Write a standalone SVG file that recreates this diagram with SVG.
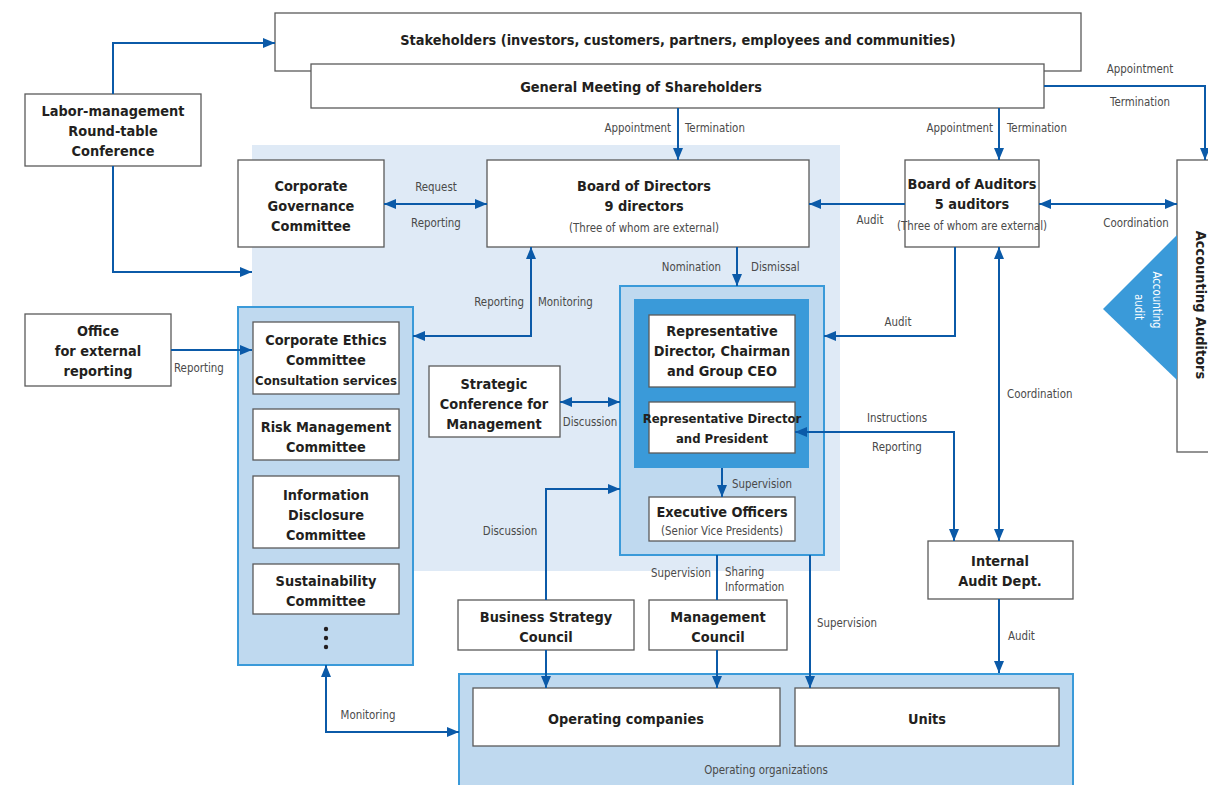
<svg xmlns="http://www.w3.org/2000/svg" width="1208" height="785" viewBox="0 0 1208 785">
<defs>
<marker id="ah" viewBox="0 0 12 10" refX="12" refY="5" markerWidth="12" markerHeight="10" markerUnits="userSpaceOnUse" orient="auto-start-reverse"><path d="M0,0 L12,5 L0,10 z" fill="#0b5aa8"/></marker>
<style>
.box{fill:#fff;stroke:#5a5a5a;stroke-width:1.3}
.panel{fill:#bfd9ef;stroke:#3a9ad9;stroke-width:2}
.t{font-family:"Liberation Sans Narrow","DejaVu Sans Condensed","Liberation Sans",sans-serif;font-weight:bold;font-size:14.4px;fill:#231f20;text-anchor:middle}
.s{font-family:"Liberation Sans Narrow","DejaVu Sans Condensed","Liberation Sans",sans-serif;font-size:11.4px;fill:#4a4a4a}
.m{text-anchor:middle}
.e{text-anchor:end}
.ln{fill:none;stroke:#0b5aa8;stroke-width:2}
</style>
</defs>
<rect width="1208" height="785" fill="#fff"/>
<rect id="bg-governance" x="252" y="145" width="588" height="426" fill="#dfeaf6"/>

<g id="stakeholders"><rect class="box" x="275" y="13" width="806" height="58"/><text class="t" x="678" y="45">Stakeholders (investors, customers, partners, employees and communities)</text></g>
<g id="gms"><rect class="box" x="311" y="64" width="733" height="44"/><text class="t" x="641" y="92">General Meeting of Shareholders</text></g>
<g id="labor"><rect class="box" x="25" y="94" width="176" height="72"/><text class="t" x="113" y="116">Labor-management</text><text class="t" x="113" y="136">Round-table</text><text class="t" x="113" y="156">Conference</text></g>
<g id="cgc"><rect class="box" x="238" y="160" width="146" height="87"/><text class="t" x="311" y="191">Corporate</text><text class="t" x="311" y="211">Governance</text><text class="t" x="311" y="231">Committee</text></g>
<g id="bod"><rect class="box" x="487" y="160" width="322" height="87"/><text class="t" x="644" y="191">Board of Directors</text><text class="t" x="644" y="211">9 directors</text><text class="s m" x="644" y="232">(Three of whom are external)</text></g>
<g id="boa"><rect class="box" x="905" y="160" width="134" height="87"/><text class="t" x="972" y="189">Board of Auditors</text><text class="t" x="972" y="209">5 auditors</text><text class="s m" x="972" y="230">(Three of whom are external)</text></g>
<g id="accounting"><rect class="box" x="1177" y="160" width="40" height="292"/>
<path d="M1177,235 L1103,309 L1177,380 z" fill="#3a9ad9"/>
<text class="t" transform="translate(1196,305) rotate(90)" text-anchor="middle">Accounting Auditors</text>
<text class="s" transform="translate(1153,300) rotate(90)" text-anchor="middle" style="fill:#fff">Accounting</text>
<text class="s" transform="translate(1135,307) rotate(90)" text-anchor="middle" style="fill:#fff">audit</text>
</g>
<g id="office"><rect class="box" x="25" y="314" width="146" height="72"/><text class="t" x="98" y="336">Office</text><text class="t" x="98" y="356">for external</text><text class="t" x="98" y="376">reporting</text></g>

<g id="committees"><rect class="panel" x="238" y="307" width="175" height="358"/>
<g id="ethics"><rect class="box" x="253" y="322" width="146" height="72"/><text class="t" x="326" y="345">Corporate Ethics</text><text class="t" x="326" y="365">Committee</text><text class="t" x="326" y="385" style="font-size:13px">Consultation services</text></g>
<g id="risk"><rect class="box" x="253" y="409" width="146" height="51"/><text class="t" x="326" y="432">Risk Management</text><text class="t" x="326" y="452">Committee</text></g>
<g id="disclosure"><rect class="box" x="253" y="476" width="146" height="72"/><text class="t" x="326" y="500">Information</text><text class="t" x="326" y="520">Disclosure</text><text class="t" x="326" y="540">Committee</text></g>
<g id="sustain"><rect class="box" x="253" y="564" width="146" height="50"/><text class="t" x="326" y="586">Sustainability</text><text class="t" x="326" y="606">Committee</text></g>
<circle cx="326" cy="629" r="2.2" fill="#231f20"/><circle cx="326" cy="638" r="2.2" fill="#231f20"/><circle cx="326" cy="647" r="2.2" fill="#231f20"/>
</g>

<g id="strategic"><rect class="box" x="429" y="366" width="131" height="71"/><text class="t" x="494" y="389">Strategic</text><text class="t" x="494" y="409">Conference for</text><text class="t" x="494" y="429">Management</text></g>

<g id="executive"><rect class="panel" x="620" y="286" width="204" height="269"/>
<rect x="634" y="299" width="175" height="169" fill="#3a9ad9"/>
<g id="ceo"><rect class="box" x="649" y="315" width="146" height="72"/><text class="t" x="722" y="336">Representative</text><text class="t" x="722" y="356">Director, Chairman</text><text class="t" x="722" y="376">and Group CEO</text></g>
<g id="president"><rect class="box" x="649" y="402" width="146" height="51"/><text class="t" x="722" y="423" style="font-size:13px">Representative Director</text><text class="t" x="722" y="443" style="font-size:13px">and President</text></g>
<g id="officers"><rect class="box" x="649" y="497" width="146" height="44"/><text class="t" x="722" y="517">Executive Officers</text><text class="s m" x="722" y="535">(Senior Vice Presidents)</text></g>
</g>

<g id="internal-audit"><rect class="box" x="928" y="541" width="145" height="58"/><text class="t" x="1000" y="566">Internal</text><text class="t" x="1000" y="586">Audit Dept.</text></g>
<g id="bsc"><rect class="box" x="458" y="600" width="176" height="50"/><text class="t" x="546" y="622">Business Strategy</text><text class="t" x="546" y="642">Council</text></g>
<g id="mc"><rect class="box" x="649" y="600" width="138" height="50"/><text class="t" x="718" y="622">Management</text><text class="t" x="718" y="642">Council</text></g>

<g id="operating"><rect class="panel" x="459" y="674" width="614" height="125"/>
<g id="opco"><rect class="box" x="473" y="688" width="307" height="58"/><text class="t" x="626" y="724">Operating companies</text></g>
<g id="units"><rect class="box" x="795" y="688" width="264" height="58"/><text class="t" x="927" y="724">Units</text></g>
<text class="s m" x="766" y="774">Operating organizations</text>
</g>

<g id="connectors">
<path class="ln" d="M113,94 V43 H275" marker-end="url(#ah)"/>
<path class="ln" d="M113,166 V272 H252" marker-end="url(#ah)"/>
<path class="ln" d="M678,108 V160" marker-end="url(#ah)"/>
<path class="ln" d="M999,108 V160" marker-end="url(#ah)"/>
<path class="ln" d="M1044,86 H1205 V160" marker-end="url(#ah)"/>
<path class="ln" d="M384,204 H487" marker-start="url(#ah)" marker-end="url(#ah)"/>
<path class="ln" d="M905,204 H809" marker-end="url(#ah)"/>
<path class="ln" d="M1039,204 H1177" marker-start="url(#ah)" marker-end="url(#ah)"/>
<path class="ln" d="M413,336 H531 V247" marker-start="url(#ah)" marker-end="url(#ah)"/>
<path class="ln" d="M737,247 V286" marker-end="url(#ah)"/>
<path class="ln" d="M955,247 V336 H824" marker-end="url(#ah)"/>
<path class="ln" d="M999,247 V541" marker-start="url(#ah)" marker-end="url(#ah)"/>
<path class="ln" d="M795,432 H954 V541" marker-start="url(#ah)" marker-end="url(#ah)"/>
<path class="ln" d="M171,350 H252" marker-end="url(#ah)"/>
<path class="ln" d="M560,402 H620" marker-start="url(#ah)" marker-end="url(#ah)"/>
<path class="ln" d="M722,468 V497" marker-end="url(#ah)"/>
<path class="ln" d="M546,600 V489 H620" marker-end="url(#ah)"/>
<path class="ln" d="M717,555 V600"/>
<path class="ln" d="M810,555 V688" marker-end="url(#ah)"/>
<path class="ln" d="M546,650 V688" marker-end="url(#ah)"/>
<path class="ln" d="M717,650 V688" marker-end="url(#ah)"/>
<path class="ln" d="M999,599 V673" marker-end="url(#ah)"/>
<path class="ln" d="M326,665 V732 H459" marker-start="url(#ah)" marker-end="url(#ah)"/>

<text class="s e" x="671" y="132">Appointment</text><text class="s" x="685" y="132">Termination</text>
<text class="s e" x="993" y="132">Appointment</text><text class="s" x="1007" y="132">Termination</text>
<text class="s m" x="1140" y="73">Appointment</text><text class="s m" x="1140" y="106">Termination</text>
<text class="s m" x="436" y="191">Request</text><text class="s m" x="436" y="227">Reporting</text>
<text class="s m" x="870" y="224">Audit</text>
<text class="s m" x="1136" y="227">Coordination</text>
<text class="s e" x="524" y="306">Reporting</text><text class="s" x="538" y="306">Monitoring</text>
<text class="s e" x="721" y="271">Nomination</text><text class="s" x="751" y="271">Dismissal</text>
<text class="s m" x="898" y="326">Audit</text>
<text class="s" x="1007" y="398">Coordination</text>
<text class="s m" x="897" y="422">Instructions</text><text class="s m" x="897" y="451">Reporting</text>
<text class="s" x="174" y="372">Reporting</text>
<text class="s m" x="590" y="426">Discussion</text>
<text class="s" x="732" y="488">Supervision</text>
<text class="s m" x="510" y="535">Discussion</text>
<text class="s e" x="711" y="577">Supervision</text><text class="s" x="725" y="576">Sharing</text><text class="s" x="725" y="591">Information</text>
<text class="s" x="817" y="627">Supervision</text>
<text class="s" x="1008" y="640">Audit</text>
<text class="s m" x="368" y="719">Monitoring</text>
</g>
</svg>
